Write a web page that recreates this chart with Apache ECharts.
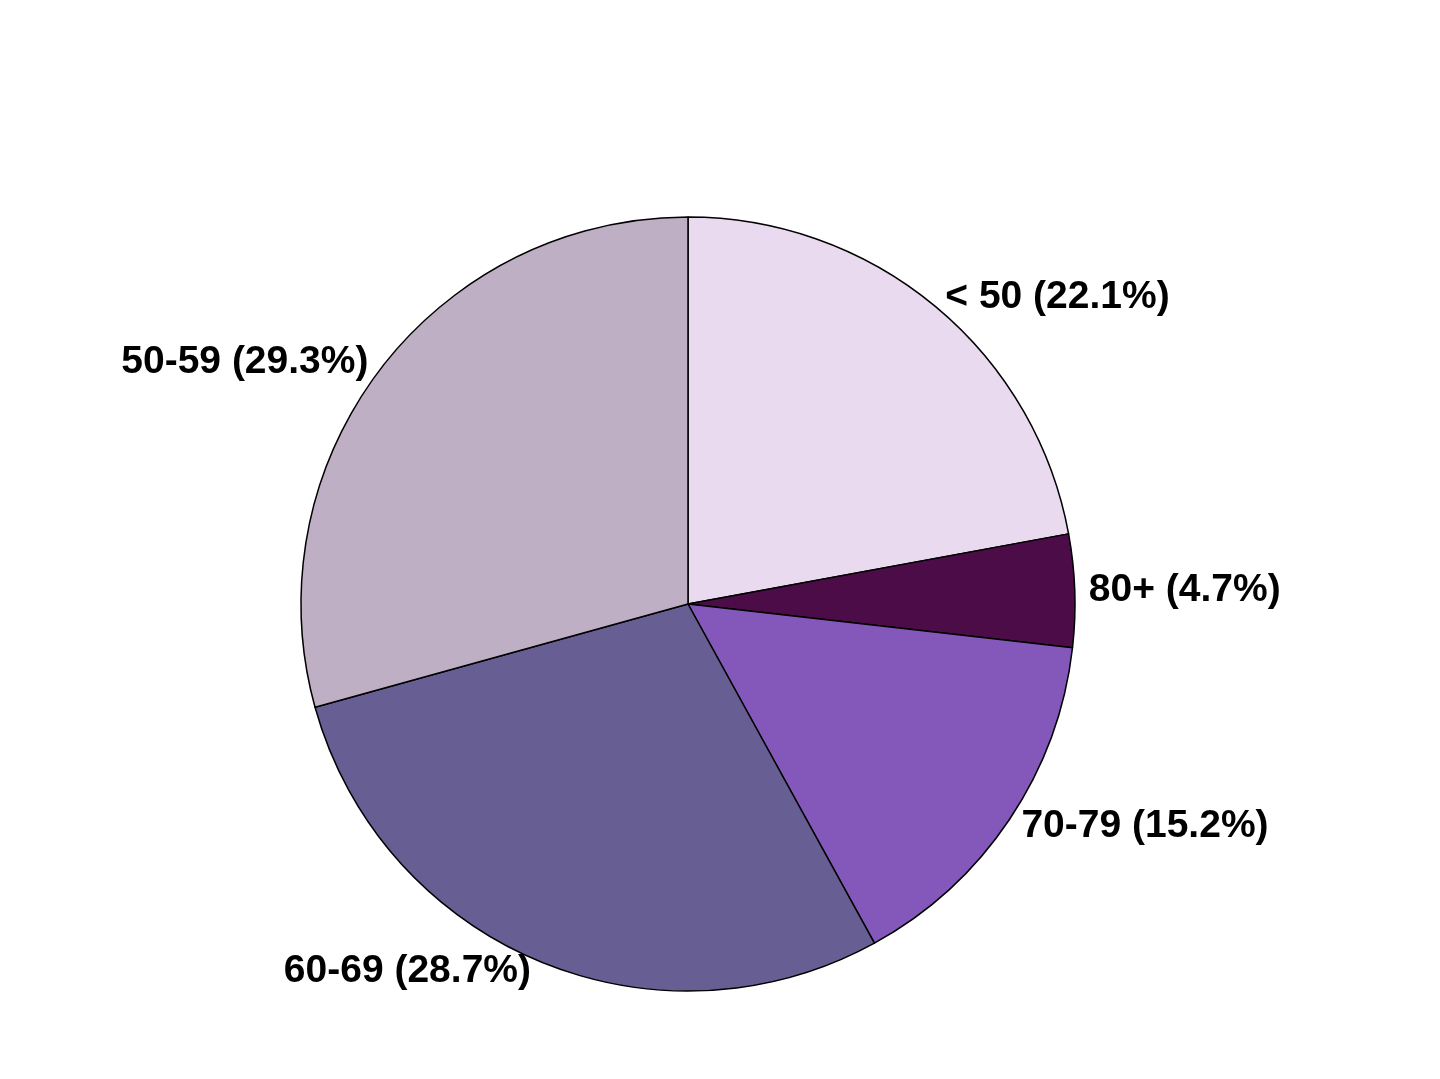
<!DOCTYPE html>
<html>
<head>
<meta charset="utf-8">
<script src="https://cdn.jsdelivr.net/npm/echarts@6/dist/echarts.min.js"></script>
<style>
html,body{margin:0;padding:0;background:#fff;}
#chart{width:1440px;height:1079px;}
</style>
</head>
<body>
<div id="chart"></div>
<script>
const categories = ['< 50', '80+', '70-79', '60-69', '50-59'];
const values = [22.1, 4.7, 15.2, 28.7, 29.3];
const colors = ['#E9DAEF', '#4C0C48', '#8457BA', '#675F93', '#BFAFC4'];

const chart = echarts.init(document.getElementById('chart'));
chart.setOption({
  backgroundColor: '#ffffff',
  animation: false,
  series: [{
    type: 'pie',
    center: [688, 604],
    radius: 387,
    startAngle: 90,
    clockwise: true,
    avoidLabelOverlap: false,
    data: categories.map((c, i) => ({ name: c, value: values[i], itemStyle: { color: colors[i] } })),
    itemStyle: { borderColor: '#000', borderWidth: 1.5 },
    label: {
      show: true,
      position: 'outside',
      formatter: p => p.name + ' (' + values[p.dataIndex].toFixed(1) + '%)',
      fontFamily: 'Liberation Sans, Arial, sans-serif',
      fontWeight: 'bold',
      fontSize: 39,
      color: '#000',
      distanceToLabelLine: 2,
      padding: [8, 0, 0, 0]
    },
    labelLine: { show: false, length: 12, length2: 0 },
    emphasis: { disabled: true }
  }]
});
</script>
</body>
</html>
